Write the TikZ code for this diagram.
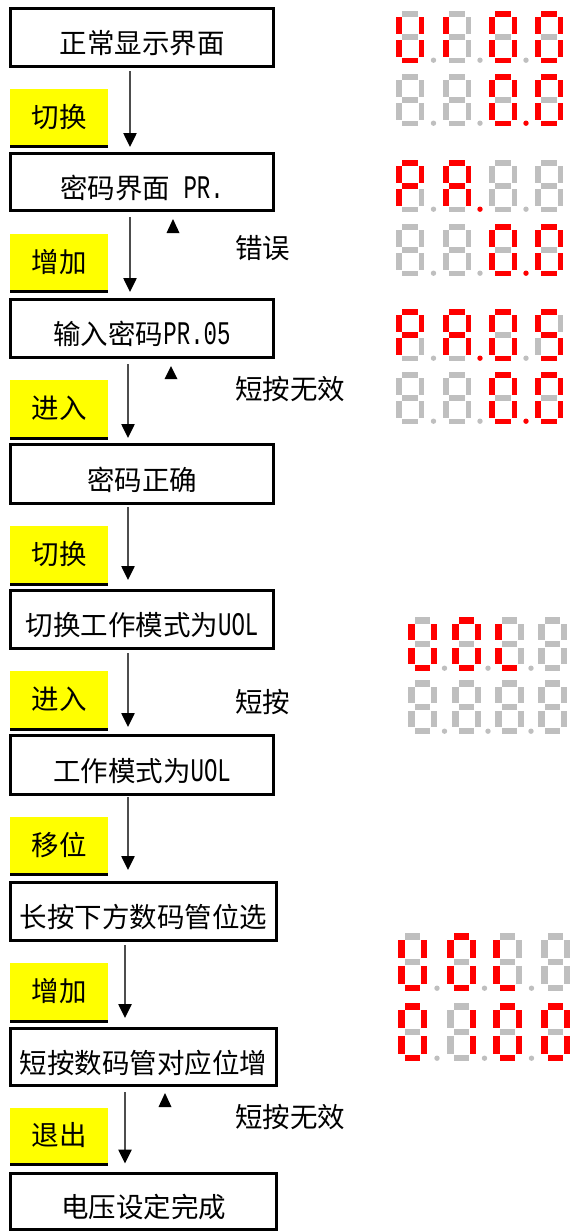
\documentclass[tikz,border=0pt]{standalone}
\usepackage{fontspec}
\setmainfont{Noto Sans CJK SC}
\newfontfamily\latmono[FakeStretch=0.68]{Liberation Mono}
\usetikzlibrary{arrows.meta}
\definecolor{segred}{RGB}{255,0,0}
\definecolor{seggrey}{RGB}{191,191,191}
\definecolor{labyellow}{RGB}{255,255,0}
\definecolor{arrline}{RGB}{77,77,77}
\newcommand\latxt{\fontsize{33pt}{30pt}\latmono}
% seven segment helpers
\def\sdsetcol#1#2{\ifnum#2=1 \def#1{segred}\else\def#1{seggrey}\fi}
\def\sdparse#1#2#3#4#5#6#7\relax{\sdsetcol\sdca{#1}\sdsetcol\sdcb{#2}\sdsetcol\sdcc{#3}\sdsetcol\sdcd{#4}\sdsetcol\sdce{#5}\sdsetcol\sdcf{#6}\sdsetcol\sdcg{#7}}
\newcommand\segdigit[3]{%
  \sdparse#3\relax
  \pgfmathsetmacro\sdL{#1+\sdT/2}%
  \pgfmathsetmacro\sdR{#1+\sdW-\sdT/2}%
  \pgfmathsetmacro\sdTop{#2+\sdT/2}%
  \pgfmathsetmacro\sdM{#2+\sdH/2}%
  \pgfmathsetmacro\sdB{#2+\sdH-\sdT/2}%
  \pgfmathsetmacro\sdg{\sdT/2+0.6}%
  \begin{scope}[line width=\sdT pt]
    \draw[draw=\sdca] ({\sdL+\sdg},\sdTop) -- ({\sdR-\sdg},\sdTop);
    \draw[draw=\sdcb] (\sdR,{\sdTop+\sdg}) -- (\sdR,{\sdM-\sdg});
    \draw[draw=\sdcc] (\sdR,{\sdM+\sdg}) -- (\sdR,{\sdB-\sdg});
    \draw[draw=\sdcd] ({\sdL+\sdg},\sdB) -- ({\sdR-\sdg},\sdB);
    \draw[draw=\sdce] (\sdL,{\sdM+\sdg}) -- (\sdL,{\sdB-\sdg});
    \draw[draw=\sdcf] (\sdL,{\sdTop+\sdg}) -- (\sdL,{\sdM-\sdg});
    \draw[draw=\sdcg] ({\sdL+\sdg},\sdM) -- ({\sdR-\sdg},\sdM);
  \end{scope}}
\newcommand\segdot[4]{%
  \pgfmathsetmacro\sddx{(#1+\sdW+#2)/2}%
  \pgfmathsetmacro\sddy{#3+\sdH-2.8}%
  \sdsetcol\sdcdot{#4}%
  \fill[fill=\sdcdot] (\sddx,\sddy) circle (2.7pt);}
\newcommand\segrow[8]{%
  \segdigit{\sdxa}{#1}{#2}\segdigit{\sdxb}{#1}{#3}%
  \segdigit{\sdxc}{#1}{#4}\segdigit{\sdxd}{#1}{#5}%
  \segdot{\sdxa}{\sdxb}{#1}{#6}\segdot{\sdxb}{\sdxc}{#1}{#7}\segdot{\sdxc}{\sdxd}{#1}{#8}}
\begin{document}
\begin{tikzpicture}[x=1pt,y=-1pt,
  txt/.style={font=\fontsize{27.5pt}{30pt}\selectfont},
  box/.style={txt, draw=black, line width=3pt, minimum width=263pt, minimum height=58pt,
    inner sep=0pt, text height=34pt, text depth=2pt},
  widebox/.style={box, minimum width=266pt},
  ylab/.style={txt, fill=labyellow, minimum width=98pt, inner sep=0pt, outer sep=0pt},
  uline/.style={draw=black, line width=3pt},
  arr/.style={draw=arrline, line width=2.5pt, -{Triangle[width=13pt,length=14pt,color=black]}},
  side/.style={txt, anchor=west, inner sep=0pt},
  upmark/.style={fill=black}]
\useasboundingbox (0,0) rectangle (572,1232);
% boxes
\node[box] (b1) at (142,37.5) {正常显示界面};
\node[box, minimum height=57pt] (b2) at (142,182) {密码界面{\latxt\ PR.}};
\node[box] (b3) at (142,328.5) {输入密码{\latxt PR.05}};
\node[box, minimum height=59pt] (b4) at (142,474) {密码正确};
\node[box] (b5) at (142,619.5) {切换工作模式为{\latxt UOL}};
\node[box, minimum height=59pt] (b6) at (142,765) {工作模式为{\latxt UOL}};
\node[widebox] (b7) at (143.5,911.5) {长按下方数码管位选};
\node[widebox, minimum height=57pt] (b8) at (143.5,1057) {短按数码管对应位增};
\node[widebox, minimum height=56pt] (b9) at (143.5,1201) {电压设定完成};
% yellow labels
\node[ylab, minimum height=56pt] (l1) at (59,117) {切换};
\node[ylab, minimum height=56pt] (l2) at (59,262) {增加};
\node[ylab, minimum height=57pt] (l3) at (59,408.5) {进入};
\node[ylab, minimum height=57pt] (l4) at (59,554.5) {切换};
\node[ylab, minimum height=57pt] (l5) at (59,699.5) {进入};
\node[ylab, minimum height=56pt] (l6) at (59,845) {移位};
\node[ylab, minimum height=57pt] (l7) at (59,991.5) {增加};
\node[ylab, minimum height=55pt] (l8) at (59,1135.5) {退出};
\foreach \l in {l1,l2,l3,l4,l5,l6,l7,l8}
  \draw[uline] ([yshift=-1.5pt]\l.south west) -- ([yshift=-1.5pt]\l.south east);
% arrows
\coordinate (ax1) at (130,0);
\coordinate (ax2) at (128,0);
\coordinate (ax3) at (125,0);
\draw[arr, shorten <=3pt, shorten >=5pt] (b1.south -| ax1) -- (b2.north -| ax1);
\draw[arr, shorten <=5pt, shorten >=6pt] (b2.south -| ax1) -- (b3.north -| ax1);
\draw[arr, shorten <=5pt, shorten >=5pt] (b3.south -| ax2) -- (b4.north -| ax2);
\draw[arr, shorten <=2pt, shorten >=9pt] (b4.south -| ax2) -- (b5.north -| ax2);
\draw[arr, shorten <=3pt, shorten >=7pt] (b5.south -| ax2) -- (b6.north -| ax2);
\draw[arr, shorten <=1pt, shorten >=11pt] (b6.south -| ax2) -- (b7.north -| ax2);
\draw[arr, shorten <=3pt, shorten >=9pt] (b7.south -| ax3) -- (b8.north -| ax3);
\draw[arr, shorten <=5pt, shorten >=8pt] (b8.south -| ax3) -- (b9.north -| ax3);
% small up marks
\fill[upmark] (166.5,233) -- (179.5,233) -- (173,219) -- cycle;
\fill[upmark] (164.5,379) -- (177.5,379) -- (171,366) -- cycle;
\fill[upmark] (158.5,1107) -- (171.5,1107) -- (165,1093) -- cycle;
% side texts
\node[side] (s1) at (235,248) {错误};
\node[side] (s2) at (235,389) {短按无效};
\node[side] (s3) at (235,702) {短按};
\node[side] (s4) at (235,1117) {短按无效};
% seven segment displays
\def\sdW{28}\def\sdH{52}\def\sdT{5.5}
\def\sdxa{396}\def\sdxb{443}\def\sdxc{489}\def\sdxd{535}
\segrow{11}{0111110}{0000110}{1111110}{1111110}{0}{0}{0}
\segrow{74}{0000000}{0000000}{1111110}{1111110}{0}{0}{1}
\segrow{160}{1100111}{1110111}{0000000}{0000000}{0}{1}{0}
\segrow{224}{0000000}{0000000}{1111110}{1111110}{0}{0}{1}
\segrow{309}{1100111}{1110111}{1111110}{1011011}{0}{1}{0}
\segrow{372}{0000000}{0000000}{1111110}{1111110}{0}{0}{1}
\def\sdW{29}\def\sdH{54}\def\sdT{6.5}
\def\sdxa{408}\def\sdxb{452}\def\sdxc{495}\def\sdxd{538}
\segrow{617}{0111110}{1111110}{0001110}{0000000}{0}{0}{0}
\segrow{680}{0000000}{0000000}{0000000}{0000000}{0}{0}{0}
\def\sdW{29}\def\sdH{58}\def\sdT{6.5}
\def\sdxa{398}\def\sdxb{447}\def\sdxc{493}\def\sdxd{541}
\segrow{933}{0111110}{1111110}{0001110}{0000000}{0}{0}{0}
\segrow{1003}{1111110}{0110000}{1111110}{1111110}{0}{0}{0}
\end{tikzpicture}
\end{document}
